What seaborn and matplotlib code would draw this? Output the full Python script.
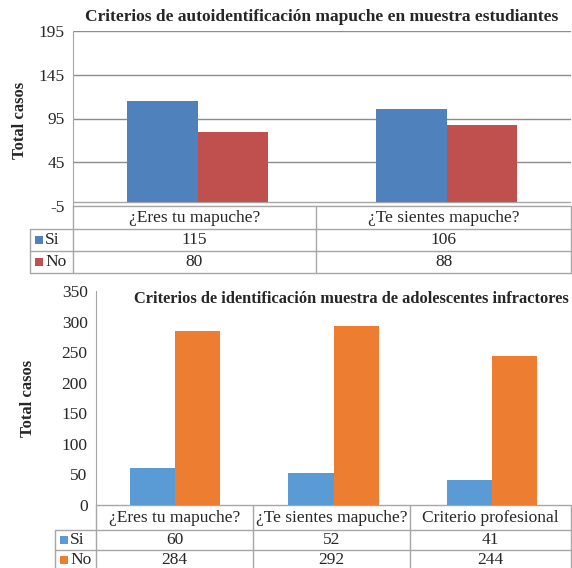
import matplotlib
matplotlib.use("Agg")
import matplotlib.pyplot as plt
import pandas as pd
import seaborn as sns
from matplotlib.patches import Rectangle

# ── data ──────────────────────────────────────────────
top_title = "Criterios de autoidentificación mapuche en muestra estudiantes"
top_categories = ["¿Eres tu mapuche?", "¿Te sientes mapuche?"]
top_si = [115, 106]
top_no = [80, 88]
top_ticks = [-5, 45, 95, 145, 195]

bot_title = "Criterios de identificación muestra de adolescentes infractores"
bot_categories = ["¿Eres tu mapuche?", "¿Te sientes mapuche?", "Criterio profesional"]
bot_si = [60, 52, 41]
bot_no = [284, 292, 244]
bot_ticks = [0, 50, 100, 150, 200, 250, 300, 350]

series = ["Si", "No"]

# ── style ─────────────────────────────────────────────
sns.set_style("white")
plt.rcParams["font.family"] = ["Liberation Serif", "DejaVu Serif"]
plt.rcParams["axes.unicode_minus"] = False

W, H = 572, 568
fig = plt.figure(figsize=(W / 100, H / 100), dpi=100)


def px_axes(left, top, right, bottom):
    return fig.add_axes([left / W, 1 - bottom / H, (right - left) / W, (bottom - top) / H])


overlay = fig.add_axes([0, 0, 1, 1], zorder=-1)
overlay.set_xlim(0, W)
overlay.set_ylim(H, 0)
overlay.axis("off")

GRID = "#8c8c8c"
BORDER = "#a6a6a6"


def make_df(categories, si, no):
    rows = []
    for cat, s, n in zip(categories, si, no):
        rows.append({"criterio": cat, "serie": "Si", "casos": s})
        rows.append({"criterio": cat, "serie": "No", "casos": n})
    return pd.DataFrame(rows)


def draw_chart(ax, df, colors, ticks, ylim, grid):
    sns.barplot(data=df, x="criterio", y="casos", hue="serie", hue_order=series,
                palette=colors, width=0.57, saturation=1, legend=False, ax=ax,
                edgecolor="none")
    ax.set_ylim(*ylim)
    ax.set_yticks(ticks)
    ax.set_xticks([])
    ax.set_xlabel("")
    ax.set_ylabel("")
    ax.tick_params(axis="y", length=0, labelsize=12.5, pad=6)
    for s in ["top", "right", "bottom"]:
        ax.spines[s].set_visible(False)
    ax.spines["left"].set_color(BORDER)
    if grid:
        for t in ticks:
            ax.axhline(t, color=GRID, lw=1, zorder=0)
    ax.axhline(0, color=BORDER, lw=1, zorder=0.5)
    ax.set_xlim(-0.5, len(df["criterio"].unique()) - 0.5)


def draw_table(x_label, x_cols, y_rows, categories, values, colors):
    # x_cols: column edges for categories, y_rows: row edges (header, Si, No)
    x0, x1 = x_cols[0], x_cols[-1]
    overlay.plot([x0, x1], [y_rows[0]] * 2, color=BORDER, lw=1)
    for y in y_rows[1:]:
        overlay.plot([x_label, x1], [y, y], color=BORDER, lw=1)
    overlay.plot([x_label, x_label], [y_rows[1], y_rows[-1]], color=BORDER, lw=1)
    for x in x_cols:
        overlay.plot([x, x], [y_rows[0], y_rows[-1]], color=BORDER, lw=1)
    # header
    for i, cat in enumerate(categories):
        cx = (x_cols[i] + x_cols[i + 1]) / 2
        cy = (y_rows[0] + y_rows[1]) / 2
        overlay.text(cx, cy, cat, ha="center", va="center", fontsize=12.5)
    # rows with legend keys
    for r, (name, vals, col) in enumerate(zip(series, values, colors)):
        cy = (y_rows[r + 1] + y_rows[r + 2]) / 2
        overlay.add_patch(Rectangle((x_label + 5, cy - 4), 8, 8, color=col, lw=0))
        overlay.text(x_label + 15, cy, name, ha="left", va="center", fontsize=12.5)
        for i, v in enumerate(vals):
            cx = (x_cols[i] + x_cols[i + 1]) / 2
            overlay.text(cx, cy, str(v), ha="center", va="center", fontsize=12.5)


# ── top chart ─────────────────────────────────────────
top_colors = ["#4f81bd", "#c0504d"]
ax1 = px_axes(73, 31, 571, 206)
draw_chart(ax1, make_df(top_categories, top_si, top_no), top_colors,
           top_ticks, (-5, 195), grid=True)
fig.text(322 / W, 1 - 17 / H, top_title, ha="center", va="center",
         fontsize=12.5, fontweight="bold")
fig.text(20 / W, 1 - 120 / H, "Total casos", ha="center", va="center",
         rotation=90, fontsize=12, fontweight="bold")
draw_table(30, [73, 316, 571], [206, 229, 251, 273], top_categories,
           [top_si, top_no], top_colors)

# ── bottom chart ──────────────────────────────────────
bot_colors = ["#5b9bd5", "#ed7d31"]
ax2 = px_axes(96, 291, 571, 505)
draw_chart(ax2, make_df(bot_categories, bot_si, bot_no), bot_colors,
           bot_ticks, (0, 350), grid=False)
fig.text(351 / W, 1 - 299 / H, bot_title, ha="center", va="center",
         fontsize=11.8, fontweight="bold")
fig.text(28 / W, 1 - 398 / H, "Total casos", ha="center", va="center",
         rotation=90, fontsize=12, fontweight="bold")
draw_table(55, [96, 253, 410, 571], [505, 530, 550, 570], bot_categories,
           [bot_si, bot_no], bot_colors)

fig.savefig("out.png", dpi=100)
